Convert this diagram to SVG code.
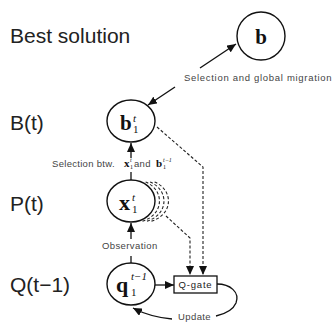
<svg xmlns="http://www.w3.org/2000/svg" width="332" height="322" viewBox="0 0 332 322">
<defs>
<marker id="ah" markerUnits="userSpaceOnUse" markerWidth="10" markerHeight="8" refX="9" refY="4" orient="auto">
<path d="M0,0 L9,4 L0,8 Z" fill="#111"/>
</marker>
<style>
.lbl{font-family:"Liberation Sans",Arial,sans-serif;font-size:21px;fill:#222}
.sm{font-family:"Liberation Sans",Arial,sans-serif;font-size:9.5px;fill:#444}
.node{fill:#fff;stroke:#111;stroke-width:1.4}
.m{font-family:"Liberation Serif","Times New Roman",serif;font-weight:bold;fill:#111}
.mi{font-family:"Liberation Serif","Times New Roman",serif;font-style:italic;fill:#111}
.mr{font-family:"Liberation Serif","Times New Roman",serif;fill:#111}
.c{fill:none;stroke:#111;stroke-width:1.3}
.d{fill:none;stroke:#222;stroke-width:1.1;stroke-dasharray:3,2}
</style>
</defs>
<rect width="332" height="322" fill="#fff"/>
<g id="row-labels">
<text class="lbl" x="10" y="43">Best solution</text>
<text class="lbl" x="10" y="130">B(t)</text>
<text class="lbl" x="10" y="211">P(t)</text>
<text class="lbl" x="10" y="292">Q(t−1)</text>
</g>
<g id="connectors">
<line class="c" x1="200" y1="68" x2="236" y2="44" marker-end="url(#ah)"/>
<line class="c" x1="175" y1="87" x2="148" y2="105" marker-end="url(#ah)"/>
<line class="c" x1="131" y1="158" x2="131" y2="143" marker-end="url(#ah)"/>
<line class="c" x1="131" y1="172" x2="131" y2="180"/>
<line class="c" x1="131" y1="239" x2="131" y2="223" marker-end="url(#ah)"/>
<line class="c" x1="131" y1="256" x2="131" y2="263"/>
<line class="c" x1="155" y1="285" x2="174" y2="285" marker-end="url(#ah)"/>
<path class="d" d="M157,127 L203,167 L203,275" marker-end="url(#ah)"/>
<path class="d" d="M166,216 L190,238 L190,275" marker-end="url(#ah)"/>
<path class="c" d="M217,284 C230,284 240,292 236,303 C233,310 225,314 216,316"/>
<path class="c" d="M172,319 Q150,317 133,308" marker-end="url(#ah)"/>
<text class="sm" x="184" y="81" style="letter-spacing:0.7px">Selection and global migration</text>
<text class="sm" x="52" y="167" style="letter-spacing:0.3px">Selection btw.</text>
<text class="m" x="124" y="167" font-size="11">x</text>
<text class="mi" x="130" y="162" font-size="6">t</text>
<text class="mr" x="130" y="169" font-size="6">1</text>
<text class="sm" x="134" y="167" style="letter-spacing:0.3px">and</text>
<text class="m" x="156" y="167" font-size="11">b</text>
<text class="mi" x="163" y="162" font-size="6">t−1</text>
<text class="mr" x="163" y="169" font-size="6">1</text>
<text class="sm" x="102" y="249" style="letter-spacing:0.4px">Observation</text>
<text class="sm" x="178" y="320" style="letter-spacing:0.4px">Update</text>
</g>
<g id="node-b">
<ellipse class="node" cx="261" cy="36" rx="24" ry="24"/>
<text class="m" x="261" y="44" font-size="21" text-anchor="middle">b</text>
</g>
<g id="node-bt">
<ellipse class="node" cx="131" cy="121" rx="24" ry="21"/>
<text class="m" x="120" y="130" font-size="21">b</text>
<text class="mi" x="133" y="122" font-size="11">t</text>
<text class="mr" x="133" y="133" font-size="11">1</text>
</g>
<g id="node-xt">
<path class="d" d="M145.6,182 A24 21 0 0 1 141.7,221.3"/>
<path class="d" d="M150.1,182 A24 21 0 0 1 146.2,221.3"/>
<path class="d" d="M154.6,182 A24 21 0 0 1 150.7,221.3"/>
<ellipse class="node" cx="131" cy="201" rx="24" ry="21"/>
<text class="m" x="119" y="210" font-size="22">x</text>
<text class="mi" x="132" y="201" font-size="11">t</text>
<text class="mr" x="132" y="213" font-size="11">1</text>
</g>
<g id="node-qt">
<ellipse class="node" cx="131" cy="284" rx="24" ry="21"/>
<text class="m" x="116" y="292" font-size="22">q</text>
<text class="mi" x="131" y="280" font-size="11">t−1</text>
<text class="mr" x="131" y="296" font-size="11">1</text>
</g>
<g id="node-qgate">
<rect x="174" y="276" width="43" height="17" fill="#fff" stroke="#111" stroke-width="1.3"/>
<text class="sm" x="195.5" y="288" text-anchor="middle" style="font-size:9.5px;fill:#222;letter-spacing:0.8px">Q-gate</text>
</g>
</svg>
